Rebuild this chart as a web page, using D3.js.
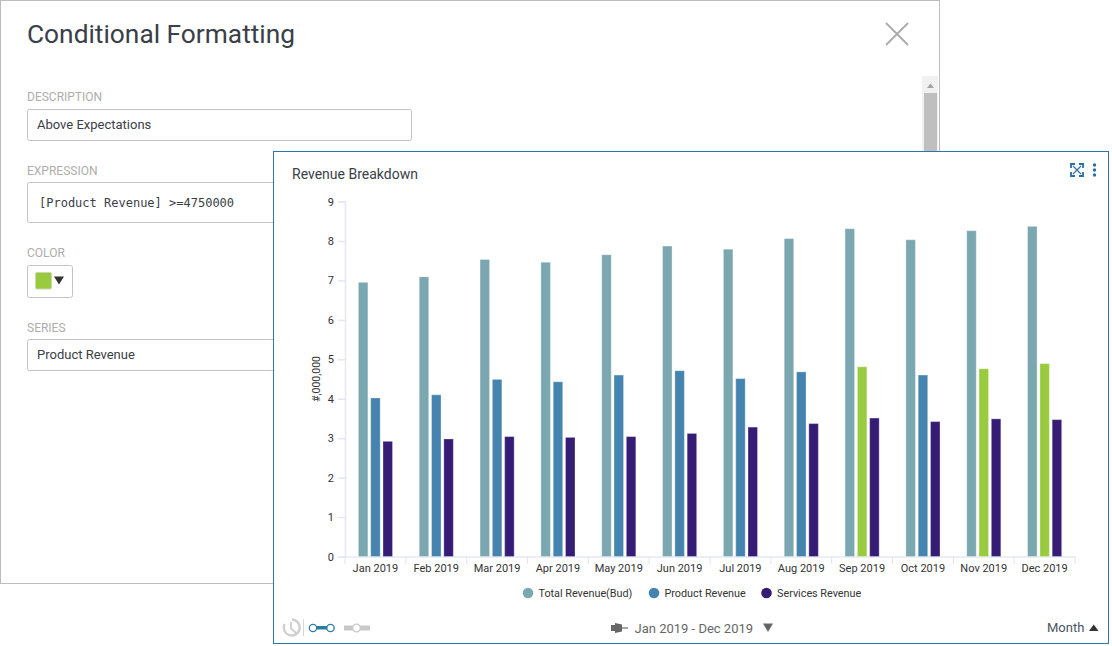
<!DOCTYPE html>
<html>
<head>
<meta charset="utf-8">
<title>Revenue Breakdown</title>
<script src="https://cdn.jsdelivr.net/npm/d3@7/dist/d3.min.js"></script>
<style>
  html, body { margin: 0; padding: 0; background: #fff; }
  svg { display: block; font-family: Roboto, sans-serif; }
</style>
</head>
<body>
<svg id="page" width="1112" height="646"></svg>
<script>
// Monthly revenue, in millions
const months = ["Jan 2019","Feb 2019","Mar 2019","Apr 2019","May 2019","Jun 2019","Jul 2019","Aug 2019","Sep 2019","Oct 2019","Nov 2019","Dec 2019"];
const seriesNames = ["Total Revenue(Bud)","Product Revenue","Services Revenue"];
const totalRevenue = [6.95,7.09,7.53,7.46,7.65,7.87,7.79,8.06,8.31,8.03,8.26,8.37];
const productRevenue = [4.02,4.10,4.49,4.43,4.60,4.71,4.51,4.68,4.81,4.60,4.76,4.89];
const servicesRevenue = [2.92,2.98,3.04,3.02,3.04,3.12,3.28,3.37,3.51,3.42,3.49,3.47];
const seriesColors = ["#7ba7b0","#4584ae","#351c75"];
const highlightColor = "#9acb3f";
const highlightThreshold = 4.75;
const yTicks = [0,1,2,3,4,5,6,7,8,9];

const svg = d3.select("#page");
const ink = "#3a4048";

// ---- Conditional formatting dialog behind the chart ----
const dialog = svg.append("g");
dialog.append("rect").attr("x",0.5).attr("y",0.5).attr("width",939).attr("height",583)
  .attr("fill","#fff").attr("stroke","#bdbdbd");
dialog.append("text").attr("x",27).attr("y",43).attr("font-size",26.3).attr("fill",ink).text("Conditional Formatting");

// Close cross
dialog.append("path").attr("d","M886 23L908 45M908 23L886 45").attr("stroke","#aaa").attr("stroke-width",1.8).attr("fill","none");

// Scrollbar
dialog.append("rect").attr("x",922).attr("y",76).attr("width",16).attr("height",80).attr("fill","#f1f1f1");
dialog.append("path").attr("d","M927 88L934 88L930.5 83.5Z").attr("fill","#a3a3a3");
dialog.append("rect").attr("x",924).attr("y",93).attr("width",13).attr("height",60).attr("fill","#bfbfbf");

const fieldLabel = (t, y) => dialog.append("text").attr("x",27).attr("y",y).attr("font-size",12).attr("fill","#adadad").text(t);
const fieldBox = (w, y, h) => dialog.append("rect").attr("x",27.5).attr("y",y+0.5).attr("width",w).attr("height",h)
  .attr("rx",2).attr("fill","#fff").attr("stroke","#c4c4c4");
const fieldText = (t, y) => dialog.append("text").attr("x",37).attr("y",y).attr("font-size",13).attr("fill",ink).text(t);

fieldLabel("DESCRIPTION",101);
fieldBox(384,109,31);
fieldText("Above Expectations",129);

fieldLabel("EXPRESSION",175);
fieldBox(384,182,40);
dialog.append("text").attr("x",39).attr("y",207).attr("font-family","'DejaVu Sans Mono', monospace").attr("font-size",12)
  .attr("fill",ink).text("[Product Revenue] >=4750000");

fieldLabel("COLOR",257);
fieldBox(45,265,32);
dialog.append("rect").attr("x",35.5).attr("y",272.5).attr("width",16).attr("height",16.5).attr("rx",1.5)
  .attr("fill",highlightColor).attr("stroke","#c9d8ae");
dialog.append("path").attr("d","M54 276.5L64 276.5L59 284.5Z").attr("fill","#333");

fieldLabel("SERIES",332);
fieldBox(384,339,31);
fieldText("Product Revenue",359);

// ---- Chart card ----
const card = svg.append("g");
card.append("rect").attr("x",273.5).attr("y",151.5).attr("width",835).attr("height",492)
  .attr("fill","#fff").attr("stroke","#2a76ad");
card.append("text").attr("x",292).attr("y",179).attr("font-size",14).attr("fill",ink).text("Revenue Breakdown");

// Expand icon and overflow menu
const iconBlue = "#2a6ea6";
const expand = card.append("g").attr("transform","translate(1077,170)").attr("fill","none").attr("stroke",iconBlue);
expand.append("path").attr("d","M-4 -4L4 4M4 -4L-4 4").attr("stroke-width",1.1);
expand.append("path").attr("d","M-6 -2V-6H-2M2 -6H6V-2M6 2V6H2M-2 6H-6V2").attr("stroke-width",1.8);
card.selectAll("circle.menu").data([165,170,175]).join("circle").attr("class","menu")
  .attr("cx",1094.5).attr("cy",d=>d).attr("r",1.7).attr("fill",iconBlue);

// Scales
const x0 = d3.scaleBand().domain(months).range([345,1075]);
const x1 = d3.scaleBand().domain(d3.range(3)).range([12,48.9]).paddingInner(0);
const y = d3.scaleLinear().domain([0,9]).range([556.5,201.5]);
const axisColor = "#e4e8f3";

// Axes
const yAxis = card.append("g").attr("transform","translate(345,0)")
  .call(d3.axisLeft(y).tickValues(yTicks).tickSize(7).tickPadding(4).tickFormat(d3.format("d")));
const xAxis = card.append("g").attr("transform","translate(0,556.5)")
  .call(d3.axisBottom(x0).tickSize(0).tickPadding(8));
[yAxis,xAxis].forEach(a => {
  a.selectAll("path.domain").attr("stroke",axisColor).attr("stroke-width",1.5);
  a.selectAll("line").attr("stroke",axisColor).attr("stroke-width",1.5);
  a.selectAll("text").attr("fill","#333").attr("font-family","Roboto, sans-serif").attr("font-size",11);
});
// Category separators sit on the band edges, not the band centres
card.append("g").selectAll("line").data(months.concat("end")).join("line")
  .attr("x1",(d,i)=>345+i*x0.step()).attr("x2",(d,i)=>345+i*x0.step())
  .attr("y1",556.5).attr("y2",564).attr("stroke",axisColor).attr("stroke-width",1.2);

card.append("text").attr("transform","translate(320,379) rotate(-90)").attr("text-anchor","middle")
  .attr("font-size",10.5).attr("fill","#333").text("#,000,000");

// Bars; product revenue turns green once it clears the threshold
const allSeries = [totalRevenue,productRevenue,servicesRevenue];
const bars = card.append("g");
allSeries.forEach((vals, s) => {
  bars.append("g").selectAll("rect").data(vals).join("rect")
    .attr("x",(d,i)=>x0(months[i]) + x1(s) + 1.4)
    .attr("width",x1.bandwidth() - 2.8)
    .attr("y",d=>y(d))
    .attr("height",d=>y(0)-y(d))
    .attr("fill",d=> s===1 && d>=highlightThreshold ? highlightColor : seriesColors[s])
    .attr("stroke","#fff").attr("stroke-opacity",0.3);
});

// Legend
const legendX = [528,654,766.5];
const legend = card.append("g").selectAll("g").data(seriesNames).join("g")
  .attr("transform",(d,i)=>`translate(${legendX[i]},593)`);
legend.append("circle").attr("r",5.3).attr("fill",(d,i)=>seriesColors[i]);
legend.append("text").attr("x",10.5).attr("y",3.8).attr("font-size",10.8).attr("fill","#333").text(d=>d);

// ---- Footer controls ----
const footer = card.append("g");
// Reset clock
footer.append("path").attr("d","M292 619.5A8 8 0 1 1 284.5 624").attr("fill","none").attr("stroke","#cfcfcf").attr("stroke-width",2.4);
footer.append("path").attr("d","M291 622V628.5L296 633").attr("fill","none").attr("stroke","#cfcfcf").attr("stroke-width",1.8);
footer.append("line").attr("x1",303.5).attr("x2",303.5).attr("y1",619).attr("y2",636).attr("stroke","#d8d8d8");
// Range slider mode
footer.append("rect").attr("x",313).attr("y",626).attr("width",18).attr("height",3.5).attr("fill","#2a7da0");
footer.selectAll("circle.ends").data([313,330.5]).join("circle").attr("class","ends")
  .attr("cx",d=>d).attr("cy",628).attr("r",3.7).attr("fill","#fff").attr("stroke","#2a7da0").attr("stroke-width",1.3);
// Single-point slider mode
footer.append("rect").attr("x",344).attr("y",625.5).attr("width",26).attr("height",5).attr("fill","#c9c9c9");
footer.append("circle").attr("cx",356.5).attr("cy",628).attr("r",3.8).attr("fill","#fff").attr("stroke","#c9c9c9").attr("stroke-width",1.3);
// Pin
footer.append("path").attr("d","M611 625H615V623L622 624.5V631.5L615 633V631H611Z").attr("fill","#666");
footer.append("line").attr("x1",622).attr("x2",628).attr("y1",628).attr("y2",628).attr("stroke","#666").attr("stroke-width",1.2);

footer.append("text").attr("x",634.5).attr("y",633).attr("font-size",13).attr("fill","#666").text("Jan 2019 - Dec 2019");
footer.append("path").attr("d","M763 623.5H773L768 632Z").attr("fill","#666");
footer.append("text").attr("x",1047).attr("y",632).attr("font-size",13).attr("fill","#4a5560").text("Month");
footer.append("path").attr("d","M1089 631H1098.5L1093.7 624.5Z").attr("fill","#333");
</script>
</body>
</html>
